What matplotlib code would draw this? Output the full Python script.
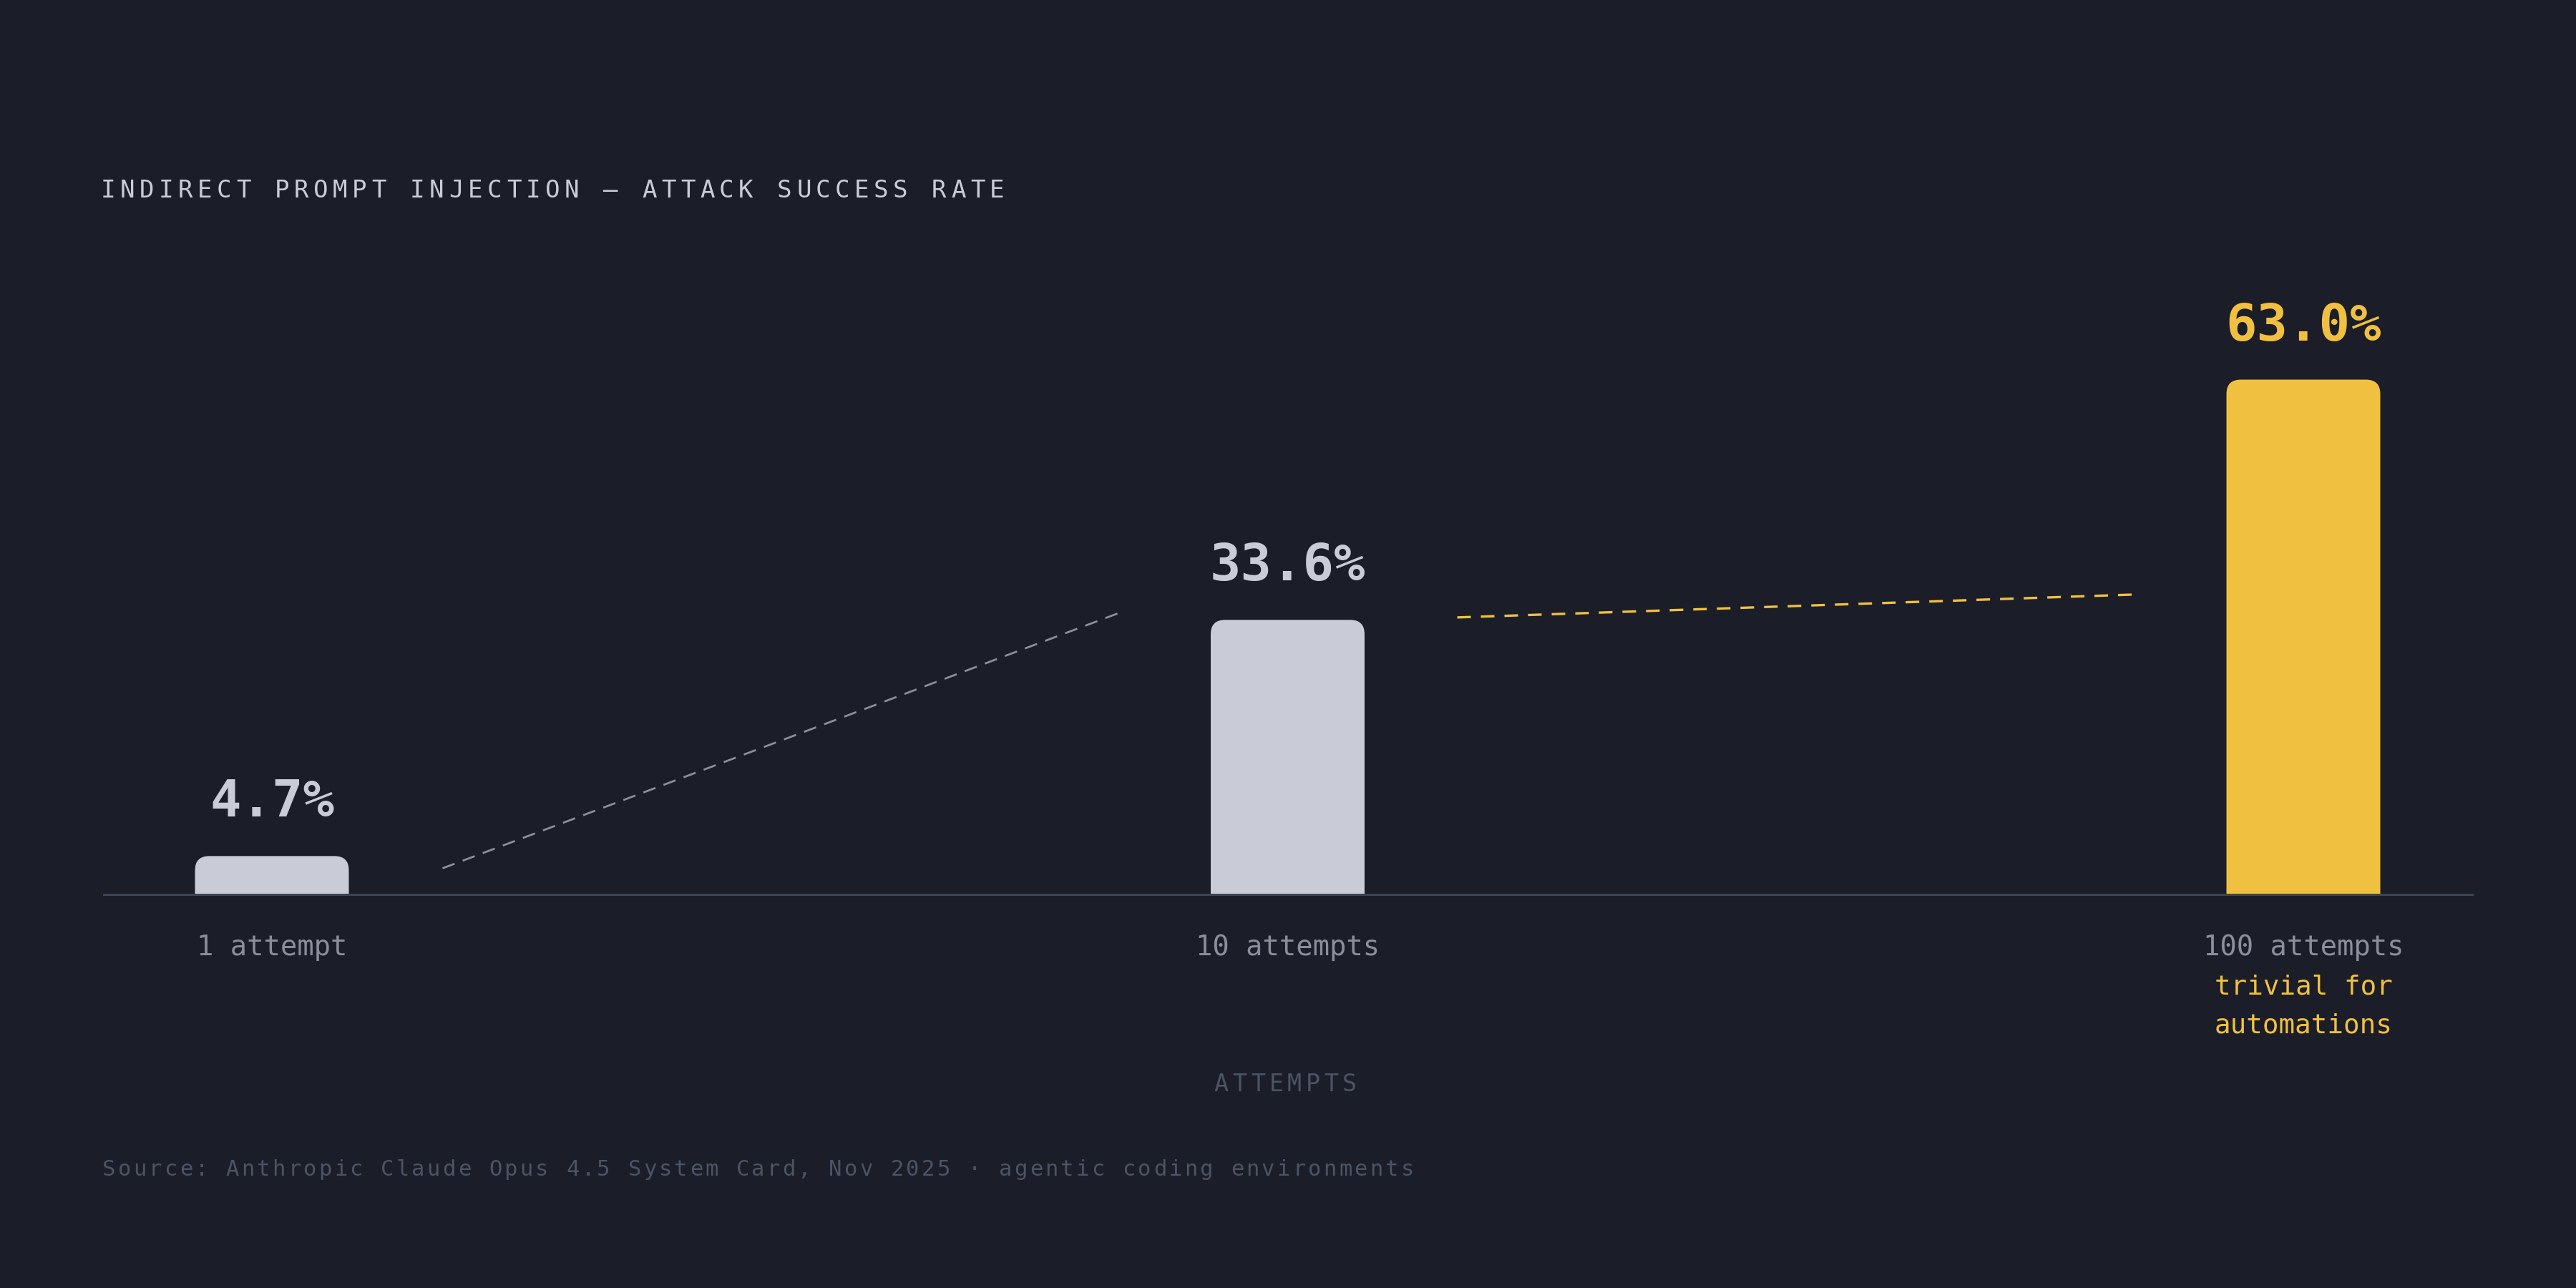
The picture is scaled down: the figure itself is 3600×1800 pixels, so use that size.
import matplotlib
matplotlib.use("Agg")
from matplotlib import pyplot as plt
from matplotlib.patches import FancyBboxPatch

# data
categories = ["1 attempt", "10 attempts", "100 attempts"]
success_rate = [4.7, 33.6, 63.0]
value_labels = ["4.7%", "33.6%", "63.0%"]
highlight = [False, False, True]
note_lines = ["trivial for", "automations"]

# dashed connector segments (x in bar slots, y in %)
conn_x = [[0.168, 0.833], [1.167, 1.833]]
conn_y = [[3.2, 34.4], [33.9, 36.7]]

title = "INDIRECT PROMPT INJECTION \u2014 ATTACK SUCCESS RATE"
xlabel = "ATTEMPTS"
source = "Source: Anthropic Claude Opus 4.5 System Card, Nov 2025 \u00b7 agentic coding environments"

BG = "#1b1d28"
GREY_BAR = "#c9ccd6"
YELLOW = "#f0c040"
CAT_COL = "#8a8e9b"
DIM = "#4b5466"
AXIS_COL = "#3d4454"
MONO = "DejaVu Sans Mono"

W, H, DPI = 3600, 1800, 200


def spaced_text(fig, x_px, y_px, s, size, pitch, color, adv):
    # draw text char by char to fake css letter-spacing (pixels from top-left)
    for i, ch in enumerate(s):
        if ch == " ":
            continue
        cx = x_px + adv / 2 + i * pitch
        fig.text(cx / W, 1 - y_px / H, ch, ha="center", va="baseline",
                 fontsize=size, family=MONO, color=color)


def main():
    fig = plt.figure(figsize=(W / DPI, H / DPI), dpi=DPI, facecolor=BG)

    # axes: baseline at y=1250px, 1419.5 px per bar slot, 11.42 px per %
    left_px, right_px = 145, 3455
    base_px, top_px = 1250, 150
    px_per_slot = 1419.5
    px_per_pct = 11.42
    ax = fig.add_axes([left_px / W, 1 - base_px / H,
                       (right_px - left_px) / W, (base_px - top_px) / H])
    ax.set_facecolor(BG)
    ax.set_xlim((left_px - 380) / px_per_slot, (right_px - 380) / px_per_slot)
    ax.set_ylim(0, (base_px - top_px) / px_per_pct)
    ax.axis("off")

    bar_w = 215 / px_per_slot
    radius = 20 / px_per_slot
    aspect = px_per_slot / px_per_pct

    for i, v in enumerate(success_rate):
        col = YELLOW if highlight[i] else GREY_BAR
        # rounded box that dips below zero; the axes clip hides the lower corners
        extra = 3 * radius * aspect
        box = FancyBboxPatch((i - bar_w / 2, -extra), bar_w, v + extra,
                             boxstyle="round,pad=0,rounding_size=%f" % radius,
                             mutation_aspect=aspect, facecolor=col,
                             edgecolor="none", zorder=2)
        ax.add_patch(box)

        ax.annotate(value_labels[i], xy=(i, v), xytext=(0, 55 / DPI * 72),
                    textcoords="offset points", ha="center", va="baseline",
                    fontsize=26, fontweight="bold", family=MONO, color=col,
                    annotation_clip=False)

        ax.annotate(categories[i], xy=(i, 0), xytext=(0, -85 / DPI * 72),
                    textcoords="offset points", ha="center", va="baseline",
                    fontsize=14, family=MONO, color=CAT_COL,
                    annotation_clip=False)

        if highlight[i]:
            for k, line in enumerate(note_lines):
                ax.annotate(line, xy=(i, 0),
                            xytext=(0, -(139 + 55 * k) / DPI * 72),
                            textcoords="offset points", ha="center",
                            va="baseline", fontsize=13.5, family=MONO,
                            color=YELLOW, annotation_clip=False)

    # connectors
    ax.plot(conn_x[0], conn_y[0], color="#8c8f99", lw=1.0,
            dashes=(6.5, 4.3), zorder=1, solid_capstyle="butt")
    ax.plot(conn_x[1], conn_y[1], color=YELLOW, lw=1.2,
            dashes=(5.7, 4.2), zorder=1)

    # baseline
    ax.axhline(0, color=AXIS_COL, lw=1.1, zorder=3, clip_on=False)

    # title, axis label, source
    spaced_text(fig, 141, 276, title, 12.3, 27.0, GREY_BAR, 20.6)
    spaced_text(fig, 1699 - 2, 1525, xlabel, 12, 25.5, DIM, 19.9)
    spaced_text(fig, 143, 1643, source, 11, 21.6, DIM, 18.4)

    fig.savefig("out.png", dpi=DPI, facecolor=BG)


if __name__ == "__main__":
    main()
